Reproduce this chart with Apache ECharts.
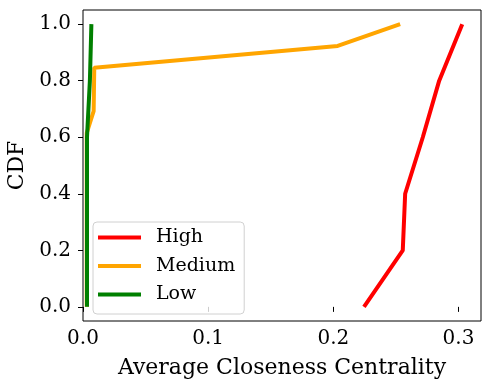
<!DOCTYPE html>
<html><head><meta charset="utf-8">
<script src="https://cdn.jsdelivr.net/npm/echarts@6/dist/echarts.min.js"></script>
<style>html,body{margin:0;padding:0;background:#fff}#c{width:490px;height:390px}</style>
</head><body><div id="c"></div>
<script>
const seriesNames = ['High', 'Medium', 'Low'];
const highX = [0.2245, 0.2555, 0.2574, 0.2715, 0.2846, 0.3030];
const highY = [0.0, 0.2, 0.4, 0.6, 0.8, 1.0];
const mediumX = [0.0030, 0.0030, 0.0085, 0.0090, 0.2035, 0.2534];
const mediumY = [0.0, 0.615, 0.692, 0.846, 0.923, 1.0];
const lowX = [0.0032, 0.0032, 0.0032, 0.0032, 0.0055, 0.0067];
const lowY = [0.0, 0.2, 0.4, 0.6, 0.8, 1.0];
const xTicks = [0.0, 0.1, 0.2, 0.3];
const yTicks = [0.0, 0.2, 0.4, 0.6, 0.8, 1.0];
const colors = ['#ff0000', '#ffa500', '#008000'];

const font = 'DejaVu Serif';
const zip = (xs, ys) => xs.map((x, i) => [x, ys[i]]);
const chart = echarts.init(document.getElementById('c'), null, {renderer: 'canvas'});
chart.setOption({
  animation: false,
  grid: {left: 83, right: 9, top: 10, bottom: 69, containLabel: false, outerBoundsMode: 'none',
         show: true, borderColor: '#000', borderWidth: 1, backgroundColor: 'transparent'},
  xAxis: {
    type: 'value', min: 0, max: 0.318,
    name: 'Average Closeness Centrality', nameLocation: 'middle', nameGap: 36,
    nameTextStyle: {fontFamily: font, fontSize: 22, color: '#000'},
    axisLine: {show: false},
    splitLine: {show: false},
    axisTick: {show: true, length: 5, lineStyle: {color: '#000'}, customValues: xTicks},
    axisLabel: {customValues: xTicks, margin: 8, fontFamily: font, fontSize: 20, color: '#000', formatter: v => v.toFixed(1)}
  },
  yAxis: {
    type: 'value', min: -0.05, max: 1.05,
    name: 'CDF', nameLocation: 'middle', nameGap: 52, nameRotate: 90,
    nameTextStyle: {fontFamily: font, fontSize: 22, color: '#000'},
    axisLine: {show: false},
    splitLine: {show: false},
    axisTick: {show: true, length: 5, lineStyle: {color: '#000'}, customValues: yTicks},
    axisLabel: {customValues: yTicks, margin: 12, fontFamily: font, fontSize: 20, color: '#000', formatter: v => v.toFixed(1)}
  },
  legend: {
    orient: 'vertical', left: 93, top: 222,
    data: seriesNames,
    icon: 'rect', itemWidth: 43, itemHeight: 4, itemGap: 9.5,
    padding: [6, 9, 10, 5],
    borderColor: '#d0d0d0', borderWidth: 1, borderRadius: 4,
    backgroundColor: 'rgba(255,255,255,0.8)',
    textStyle: {fontFamily: font, fontSize: 19, color: '#000', lineHeight: 18, padding: [0, 0, 0, 10]}
  },
  series: [
    {name: seriesNames[0], type: 'line', data: zip(highX, highY)},
    {name: seriesNames[1], type: 'line', data: zip(mediumX, mediumY)},
    {name: seriesNames[2], type: 'line', data: zip(lowX, lowY)}
  ].map((s, i) => Object.assign(s, {
    showSymbol: false, symbol: 'none', color: colors[i],
    lineStyle: {width: 4, color: colors[i]}, z: 2 + i
  }))
});
</script></body></html>
